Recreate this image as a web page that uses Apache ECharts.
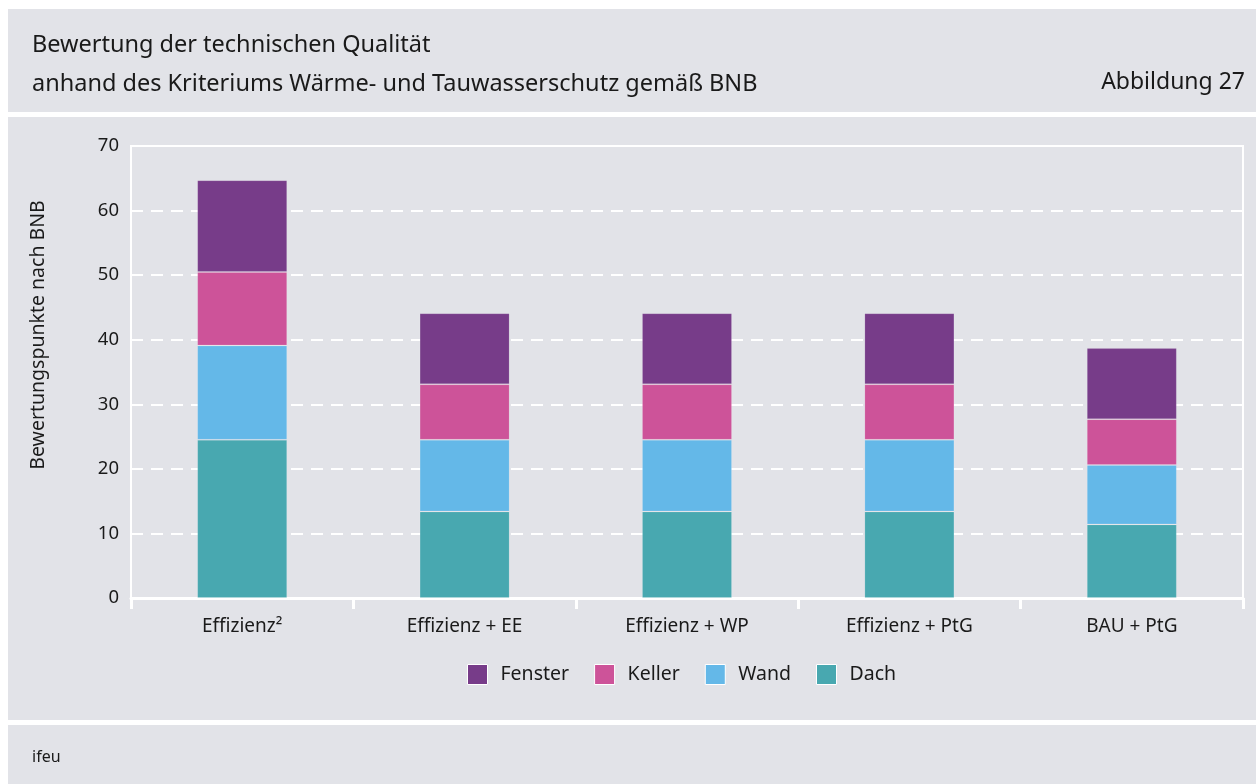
<!DOCTYPE html>
<html>
<head>
<meta charset="utf-8">
<script src="https://cdn.jsdelivr.net/npm/echarts@6/dist/echarts.min.js"></script>
<style>
  html, body { margin: 0; padding: 0; background: #ffffff; }
  #chart { width: 1256px; height: 784px; }
</style>
</head>
<body>
<div id="chart"></div>
<script>
  // Szenarien
  var categories = ['Effizienz²', 'Effizienz + EE', 'Effizienz + WP', 'Effizienz + PtG', 'BAU + PtG'];
  // Bewertungspunkte je Bauteil
  var dach    = [24.5, 13.4, 13.4, 13.4, 11.4];
  var wand    = [14.6, 11.1, 11.1, 11.1, 9.2];
  var keller  = [11.4, 8.6, 8.6, 8.6, 7.1];
  var fenster = [14.2, 11.0, 11.0, 11.0, 11.0];
  var yTicks  = [0, 10, 20, 30, 40, 50, 60, 70];

  var bg = '#e2e3e8';
  var font = '"Noto Sans", "Open Sans", sans-serif';

  var chart = echarts.init(document.getElementById('chart'));

  function bar(name, data, color) {
    return {
      name: name,
      type: 'bar',
      stack: 'bnb',
      barWidth: 90,
      data: data,
      itemStyle: { color: color, borderColor: 'rgba(255,255,255,0.12)', borderWidth: 1 },
      emphasis: { disabled: true }
    };
  }

  var option = {
    backgroundColor: '#ffffff',
    animation: false,
    textStyle: { fontFamily: font },
    graphic: [
      { type: 'rect', z: -10, shape: { x: 8, y: 9, width: 1248, height: 103 }, style: { fill: bg } },
      { type: 'rect', z: -10, shape: { x: 8, y: 117, width: 1248, height: 603 }, style: { fill: bg } },
      { type: 'rect', z: -10, shape: { x: 8, y: 725, width: 1248, height: 59 }, style: { fill: bg } },
      { type: 'text', x: 32, y: 45, style: { text: 'Bewertung der technischen Qualität', font: '23.5px ' + font, fill: '#1a1a1a', verticalAlign: 'middle' } },
      { type: 'text', x: 32, y: 84, style: { text: 'anhand des Kriteriums Wärme- und Tauwasserschutz gemäß BNB', font: '23.5px ' + font, fill: '#1a1a1a', verticalAlign: 'middle' } },
      { type: 'text', x: 1245, y: 82, style: { text: 'Abbildung 27', font: '23px ' + font, fill: '#1a1a1a', align: 'right', verticalAlign: 'middle' } },
      { type: 'text', x: 32, y: 757, style: { text: 'ifeu', font: '16px ' + font, fill: '#1a1a1a', verticalAlign: 'middle' } },
      { type: 'text', x: 38, y: 335, rotation: Math.PI / 2, style: { text: 'Bewertungspunkte nach BNB', font: '19.5px ' + font, fill: '#1a1a1a', align: 'center', verticalAlign: 'middle' } }
    ],
    legend: {
      data: ['Fenster', 'Keller', 'Wand', 'Dach'],
      left: 462,
      top: 659,
      itemWidth: 20,
      itemHeight: 20,
      itemGap: 25,
      icon: 'rect',
      itemStyle: { borderColor: '#ffffff', borderWidth: 1 },
      textStyle: { fontSize: 19.5, color: '#1a1a1a', padding: [0, 0, 0, 8] }
    },
    grid: {
      left: 131, right: 13, top: 146, bottom: 186,
      show: true, borderColor: '#ffffff', borderWidth: 2, backgroundColor: 'transparent'
    },
    xAxis: {
      type: 'category',
      data: categories,
      axisLine: { lineStyle: { color: '#ffffff', width: 3 } },
      axisTick: { show: true, length: 11, lineStyle: { color: '#ffffff', width: 3 } },
      axisLabel: { fontSize: 19, color: '#1a1a1a', margin: 19 }
    },
    yAxis: {
      type: 'value',
      min: yTicks[0],
      max: yTicks[yTicks.length - 1],
      interval: 10,
      axisLine: { show: true, lineStyle: { color: '#ffffff', width: 2 } },
      axisTick: { show: false },
      axisLabel: { fontSize: 18.5, color: '#1a1a1a', margin: 12 },
      splitLine: { lineStyle: { color: '#ffffff', width: 2, type: [12, 8] } }
    },
    series: [
      bar('Dach', dach, '#48a8b0'),
      bar('Wand', wand, '#64b8e8'),
      bar('Keller', keller, '#cd5399'),
      bar('Fenster', fenster, '#773c89')
    ]
  };

  chart.setOption(option);
</script>
</body>
</html>
